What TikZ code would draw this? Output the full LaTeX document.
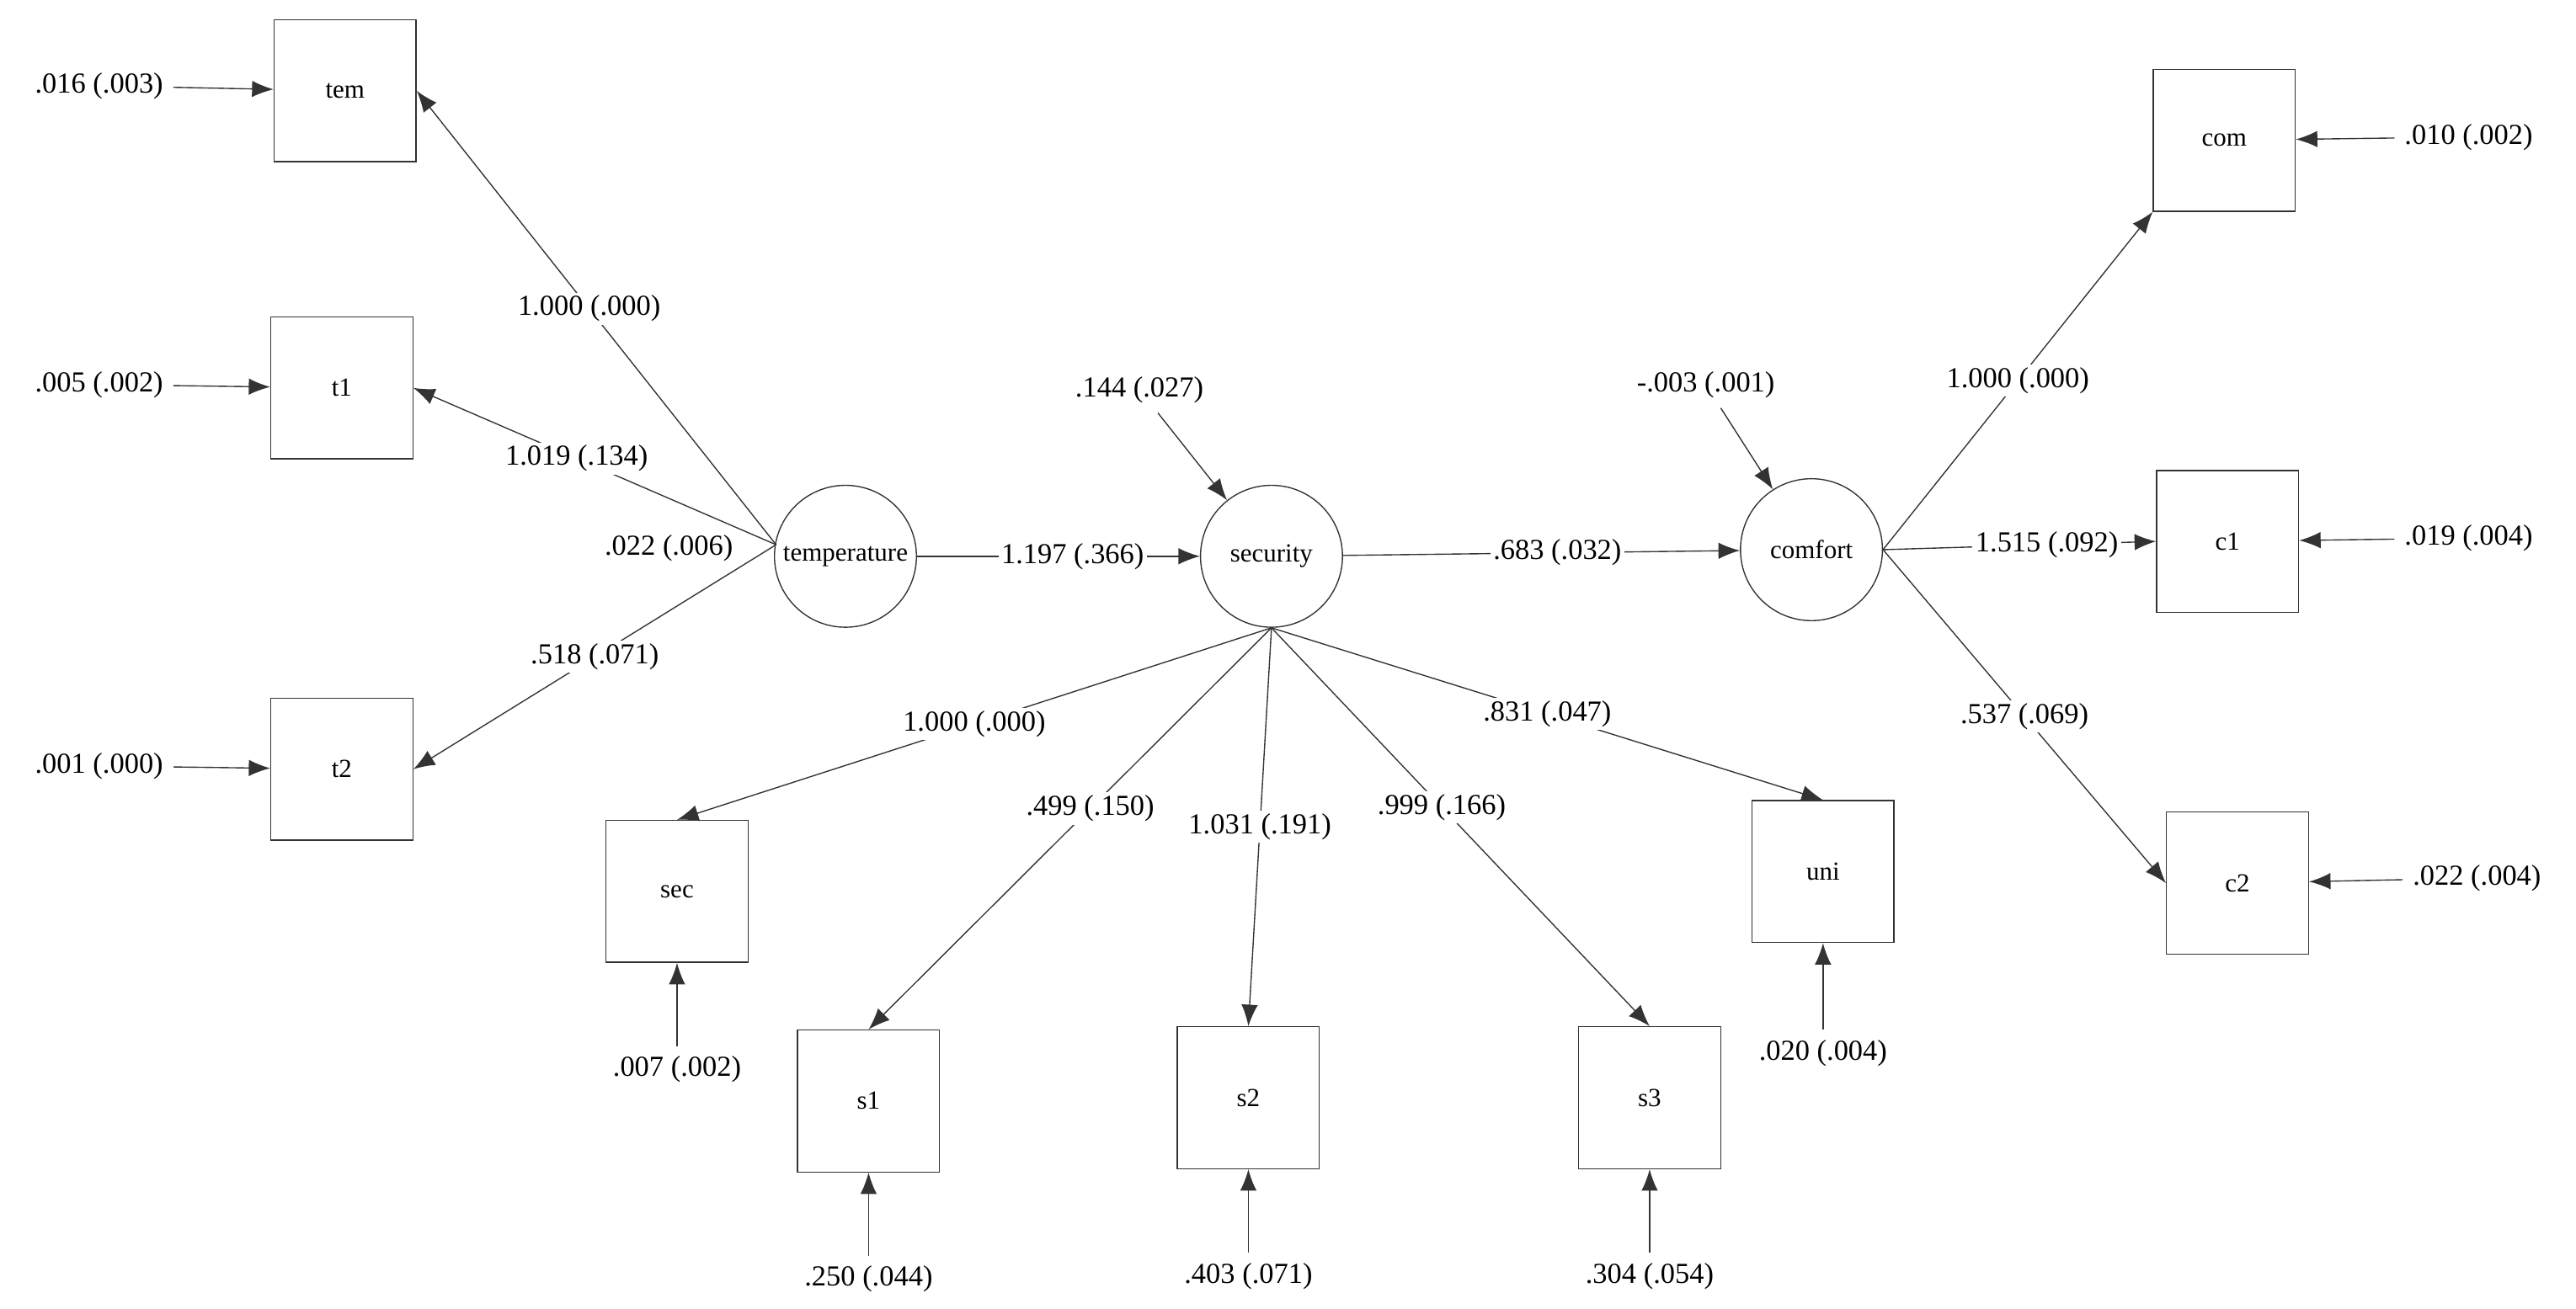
\documentclass[tikz,border=0pt]{standalone}
\usepackage{fontspec}
\setmainfont{Liberation Serif}
\usetikzlibrary{arrows.meta}
\usetikzlibrary{positioning}

\tikzset{
    obs/.style={rectangle, minimum size=1.72cm, draw=black!80, font=\small},
    lat/.style={circle, minimum size=1.72cm, inner sep=0pt, draw=black!80, font=\small},
    est/.style={font=\normalsize, fill=white, text=black, inner sep=1pt},
    path/.style={-{Latex[length=2.6mm,width=2mm]}, draw=black!80},
}

\begin{document}
\begin{tikzpicture}[x=0.02cm, y=-0.02cm]
    \useasboundingbox (0,0) rectangle (1560,793);

    % latent variables
    \node [lat] (temp) at (512,337) {temperature};
    \node [lat] (secu) at (770,337) {security};
    \node [lat] (comf) at (1097,333) {comfort};

    % indicators
    \node [obs] (tem) at (209,55) {tem};
    \node [obs] (t1) at (207,235) {t1};
    \node [obs] (t2) at (207,466) {t2};
    \node [obs] (sec) at (410,540) {sec};
    \node [obs] (s1) at (526,667) {s1};
    \node [obs] (s2) at (756,665) {s2};
    \node [obs] (s3) at (999,665) {s3};
    \node [obs] (uni) at (1104,528) {uni};
    \node [obs] (com) at (1347,85) {com};
    \node [obs] (c1) at (1349,328) {c1};
    \node [obs] (c2) at (1355,535) {c2};

    % error terms
    \node (etem) at (60,52) {.016 (.003)};
    \node (et1) at (60,233) {.005 (.002)};
    \node (et2) at (60,464) {.001 (.000)};
    \node (esec) at (410,648) {.007 (.002)};
    \node (es1) at (526,775) {.250 (.044)};
    \node (es2) at (756,773) {.403 (.071)};
    \node (es3) at (999,773) {.304 (.054)};
    \node (euni) at (1104,638) {.020 (.004)};
    \node (ecom) at (1495,83) {.010 (.002)};
    \node (ec1) at (1495,326) {.019 (.004)};
    \node (ec2) at (1500,532) {.022 (.004)};
    \node (esecu) at (690,236) {.144 (.027)};
    \node (ecomf) at (1033,233) {-.003 (.001)};
    \node (vtemp) at (405,332) {.022 (.006)};

    \coordinate (ptemp) at (470,330);

    \draw [path] (etem) -- (tem);
    \draw [path] (et1) -- (t1);
    \draw [path] (et2) -- (t2);
    \draw [path] (esec) -- (sec);
    \draw [path] (es1) -- (s1);
    \draw [path] (es2) -- (s2);
    \draw [path] (es3) -- (s3);
    \draw [path] (euni) -- (uni);
    \draw [path] (ecom) -- (com);
    \draw [path] (ec1) -- (c1);
    \draw [path] (ec2) -- (c2);
    \draw [path] (esecu) -- (secu);
    \draw [path] (ecomf) -- (comf);

    % loadings
    \draw [path] (ptemp) -- node[est, pos=0.52] {1.000 (.000)} (tem.east);
    \draw [path] (ptemp) -- node[est, pos=0.55] {1.019 (.134)} (t1.east);
    \draw [path] (ptemp) -- node[est, pos=0.5] {.518 (.071)} (t2.east);
    \draw [path] (temp) -- node[est, pos=0.55] {1.197 (.366)} (secu);
    \draw [path] (secu) -- node[est, pos=0.54] {.683 (.032)} (comf);
    \draw [path] (secu.south) -- node[est, pos=0.5] {1.000 (.000)} (sec.north);
    \draw [path] (secu.south) -- node[est, pos=0.45] {.499 (.150)} (s1.north);
    \draw [path] (secu.south) -- node[est, pos=0.5] {1.031 (.191)} (s2.north);
    \draw [path] (secu.south) -- node[est, pos=0.45] {.999 (.166)} (s3.north);
    \draw [path] (secu.south) -- node[est, pos=0.5] {.831 (.047)} (uni.north);
    \draw [path] (comf.east) -- node[est, pos=0.5] {1.000 (.000)} (com.south west);
    \draw [path] (comf.east) -- node[est, pos=0.6] {1.515 (.092)} (c1.west);
    \draw [path] (comf.east) -- node[est, pos=0.5] {.537 (.069)} (c2.west);
\end{tikzpicture}
\end{document}
